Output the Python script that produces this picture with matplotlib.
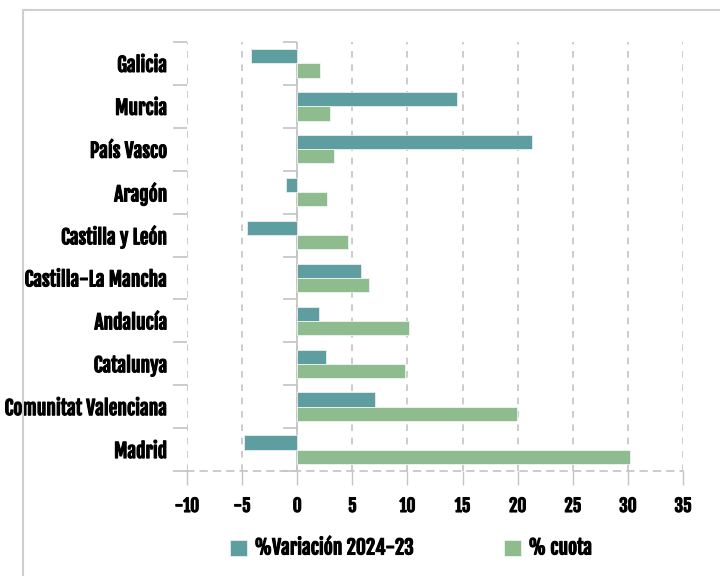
import numpy as np
import matplotlib
matplotlib.use("Agg")
import matplotlib.pyplot as plt
import matplotlib.patheffects as pe
from matplotlib.patches import Rectangle

regions = ["Galicia", "Murcia", "País Vasco", "Aragón", "Castilla y León",
           "Castilla-La Mancha", "Andalucía", "Catalunya",
           "Comunitat Valenciana", "Madrid"]
variacion = [-4.2, 14.5, 21.3, -1.0, -4.6, 5.8, 2.0, 2.6, 7.1, -4.8]
cuota = [2.1, 3.0, 3.3, 2.7, 4.6, 6.5, 10.1, 9.8, 19.9, 30.2]
x_ticks = [-10, -5, 0, 5, 10, 15, 20, 25, 30, 35]

plt.rcParams['font.family'] = ['Fjalla One', 'Oswald', 'DejaVu Sans']

teal = '#5F9EA0'
green = '#8FBC8F'
gray = '#c4c4c4'
bold = [pe.withStroke(linewidth=0.8, foreground='black')]

fig = plt.figure(figsize=(7.2, 5.76), dpi=100)
fig.patches.append(Rectangle((23 / 720, -0.1), 1.2, 1 - 9.5 / 576 + 0.1,
                             transform=fig.transFigure, fill=False,
                             edgecolor='#cfcfcf', linewidth=1.5))
ax = fig.add_axes([187 / 720, 1 - 471 / 576, 496 / 720, 429 / 576])

y = np.arange(len(regions))
h = 0.33
ax.barh(y - h / 2, variacion, height=h, color=teal, edgecolor='#e8f0f0',
        linewidth=0.6, label='%Variación 2024-23', zorder=3)
ax.barh(y + h / 2, cuota, height=h, color=green, edgecolor='#eef5ee',
        linewidth=0.6, label='% cuota', zorder=3)

ax.set_xlim(-10, 35)
ax.set_ylim(len(regions) - 0.5, -0.5)
ax.set_xticks(x_ticks)
ax.set_xticklabels([str(t) for t in x_ticks])
ax.set_yticks(y)
ax.set_yticklabels(regions)
bounds = np.arange(len(regions) + 1) - 0.5
ax.set_yticks(bounds, minor=True)

ax.tick_params(axis='y', which='major', length=0, pad=14, labelsize=14)
ax.tick_params(axis='y', which='minor', length=10, color=gray, width=1.2)
ax.tick_params(axis='x', length=10, color=gray, width=1, pad=8, labelsize=12.5)
for t in ax.get_xticklabels() + ax.get_yticklabels():
    t.set_path_effects(bold)

ax.grid(axis='x', linestyle=(0, (4, 4)), color=gray, linewidth=1.2, zorder=0)
for side in ['top', 'right', 'left']:
    ax.spines[side].set_visible(False)
ax.spines['bottom'].set_linestyle((0, (4, 4)))
ax.spines['bottom'].set_color(gray)
ax.spines['bottom'].set_linewidth(1.2)

# y axis at zero with short ticks at the category boundaries
ax.axvline(0, color=gray, linewidth=1.2, zorder=2)
ax.plot(np.zeros(len(bounds)), bounds, linestyle='none', marker=0,
        markersize=10, markeredgewidth=1.2, color=gray, zorder=2, clip_on=False)

leg = fig.legend(loc='center', bbox_to_anchor=(0.571, 1 - 548 / 576), ncol=2,
                 frameon=False, fontsize=14, columnspacing=4.6, handlelength=0.85,
                 handleheight=0.85, handletextpad=0.4)
for t in leg.get_texts():
    t.set_path_effects(bold)

fig.savefig('out.png', dpi=100)
